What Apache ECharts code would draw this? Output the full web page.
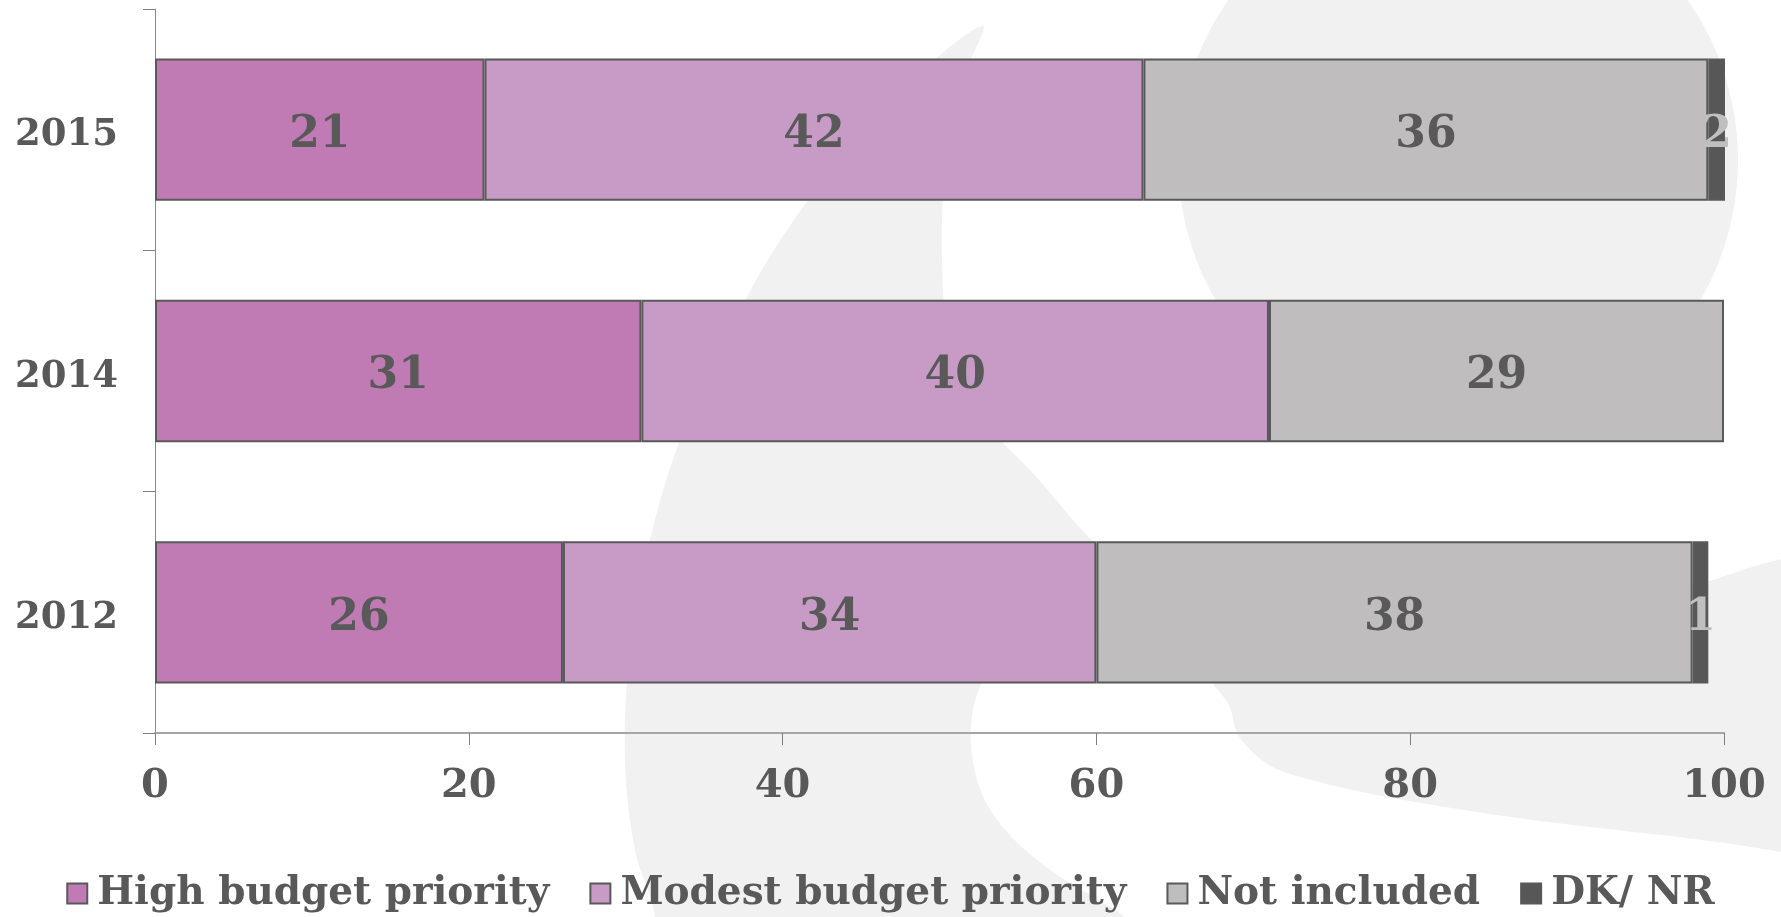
<!DOCTYPE html>
<html>
<head>
<meta charset="utf-8">
<title>Budget priority</title>
<script src="https://cdn.jsdelivr.net/npm/echarts@6/dist/echarts.min.js"></script>
<style>
  html, body { margin: 0; padding: 0; background: #ffffff; }
  #chart { width: 1781px; height: 917px; }
</style>
</head>
<body>
<div id="chart"></div>
<script>
// Survey years, bottom to top on the category axis
const years = ['2012', '2014', '2015'];

// Share of respondents per answer, in the same year order
const highPriority   = [26, 31, 21];
const modestPriority = [34, 40, 42];
const notIncluded    = [38, 29, 36];
const dkNr           = [1, '-', 2];

const seriesNames = ['High budget priority', 'Modest budget priority', 'Not included', 'DK/ NR'];
const xTicks = [0, 20, 40, 60, 80, 100];

const TEXT = '#595959';
const FONT = '"DejaVu Serif", "Liberation Serif", serif';
const colors = ['#c07ab4', '#c79bc5', '#bfbdbe', '#575757'];

const chart = echarts.init(document.getElementById('chart'), null, { renderer: 'canvas' });

function barSeries(name, data, color, labelColor) {
  return {
    name: name,
    type: 'bar',
    stack: 'total',
    data: data,
    barWidth: '59%',
    itemStyle: { color: color, borderColor: '#595959', borderWidth: 2 },
    label: {
      show: true,
      position: 'inside',
      offset: [0, 6],
      color: labelColor,
      fontFamily: FONT,
      fontWeight: 'bold',
      fontSize: 44,
      formatter: p => (p.value === '-' || p.value === 0 ? '' : String(p.value))
    },
    emphasis: { disabled: true },
    z: 3
  };
}

// Soft grey watermark shapes behind the plot
const watermark = [
  {
    type: 'circle',
    silent: true,
    z: -10,
    shape: { cx: 1458, cy: 160, r: 280 },
    style: { fill: '#f1f1f1' }
  },
  {
    type: 'polygon',
    silent: true,
    z: -10,
    shape: {
      smooth: 0.35,
      points: [
        [982, 26],
        [958, 90], [945, 170], [942, 260], [950, 345], [980, 415], [1030, 470],
        [1118, 562], [1250, 625], [1450, 628], [1650, 598], [1800, 555],
        [1860, 560], [1860, 880],
        [1781, 852], [1477, 812], [1284, 772], [1240, 738], [1226, 700],
        [1170, 648], [1080, 632], [1000, 660], [974, 705],
        [974, 767], [995, 817], [1046, 867], [1125, 917], [1170, 960],
        [650, 965],
        [655, 917], [635, 850], [625, 760], [630, 650], [650, 540],
        [680, 440], [726, 337], [787, 230], [880, 112]
      ]
    },
    style: { fill: '#f1f1f1' }
  }
];

const option = {
  backgroundColor: '#ffffff',
  animation: false,
  graphic: watermark,
  grid: { left: 155, right: 57, top: 9, bottom: 184, containLabel: false },
  xAxis: {
    type: 'value',
    min: xTicks[0],
    max: xTicks[xTicks.length - 1],
    interval: 20,
    axisLine: { show: true, lineStyle: { color: '#a6a6a6', width: 2 } },
    axisTick: { show: true, length: 12, lineStyle: { color: '#7f7f7f', width: 1 } },
    splitLine: { show: false },
    axisLabel: {
      color: TEXT,
      fontFamily: FONT,
      fontWeight: 'bold',
      fontSize: 40,
      margin: 34
    }
  },
  yAxis: {
    type: 'category',
    data: years,
    axisLine: { show: true, lineStyle: { color: '#8a8a8a', width: 1 } },
    axisTick: { show: true, length: 12, lineStyle: { color: '#7f7f7f', width: 1 } },
    axisLabel: {
      margin: 37,
      formatter: v => '{yr|' + v + '}',
      rich: {
        yr: {
          color: TEXT,
          fontFamily: FONT,
          fontWeight: 'bold',
          fontSize: 37,
          padding: [12, 0, 0, 0]
        }
      }
    }
  },
  legend: {
    data: seriesNames,
    top: 869,
    left: 'center',
    icon: 'rect',
    itemWidth: 20,
    itemHeight: 20,
    itemGap: 40,
    itemStyle: { borderColor: '#595959', borderWidth: 2 },
    textStyle: {
      color: TEXT,
      fontFamily: FONT,
      fontWeight: 'bold',
      fontSize: 39,
      padding: [0, 0, 0, 5]
    },
    selectedMode: false
  },
  series: [
    barSeries(seriesNames[0], highPriority, colors[0], TEXT),
    barSeries(seriesNames[1], modestPriority, colors[1], TEXT),
    barSeries(seriesNames[2], notIncluded, colors[2], TEXT),
    barSeries(seriesNames[3], dkNr, colors[3], '#bfbfbf')
  ]
};

chart.setOption(option);
</script>
</body>
</html>
